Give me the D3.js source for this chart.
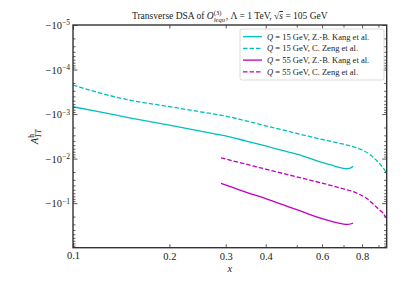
<!DOCTYPE html>
<html>
<head>
<meta charset="utf-8">
<script src="https://cdn.jsdelivr.net/npm/d3@7"></script>
<style>
  body { margin: 0; background: #fff; }
  text { font-family: "Liberation Serif", "Times New Roman", serif; fill: #222; }
</style>
</head>
<body>
<svg></svg>
<script>
// curves, y given as |A| (values are negative)
const xQ15Kang = [0.1, 0.12, 0.15, 0.2, 0.25, 0.3, 0.35, 0.4, 0.45, 0.5, 0.55, 0.6, 0.65, 0.68, 0.7, 0.72, 0.74, 0.75];
const yQ15Kang = [6.85e-4, 8.8e-4, 1.21e-3, 1.77e-3, 2.42e-3, 3.09e-3, 4.08e-3, 5.2e-3, 6.54e-3, 7.95e-3, 9.9e-3, 1.22e-2, 1.44e-2, 1.58e-2, 1.65e-2, 1.67e-2, 1.59e-2, 1.48e-2];

const xQ15Zeng = [0.1, 0.12, 0.15, 0.2, 0.25, 0.3, 0.35, 0.4, 0.45, 0.5, 0.55, 0.6, 0.65, 0.7, 0.75, 0.8, 0.85, 0.89, 0.92, 0.95];
const yQ15Zeng = [2.23e-4, 3.29e-4, 4.84e-4, 6.8e-4, 8.9e-4, 1.11e-3, 1.44e-3, 1.83e-3, 2.25e-3, 2.72e-3, 3.2e-3, 3.7e-3, 4.2e-3, 4.75e-3, 5.4e-3, 6.4e-3, 8.3e-3, 1.12e-2, 1.45e-2, 2.0e-2];

const xQ55Kang = [0.29, 0.32, 0.35, 0.4, 0.45, 0.5, 0.55, 0.6, 0.65, 0.68, 0.7, 0.72, 0.74, 0.75];
const yQ55Kang = [3.6e-2, 4.62e-2, 5.78e-2, 7.9e-2, 0.107, 0.14, 0.18, 0.222, 0.262, 0.283, 0.295, 0.30, 0.29, 0.279];

const xQ55Zeng = [0.29, 0.32, 0.35, 0.4, 0.45, 0.5, 0.55, 0.6, 0.65, 0.7, 0.75, 0.79, 0.83, 0.866, 0.9, 0.93, 0.95];
const yQ55Zeng = [9.6e-3, 1.15e-2, 1.35e-2, 1.72e-2, 2.13e-2, 2.56e-2, 3.04e-2, 3.55e-2, 4.15e-2, 4.8e-2, 5.5e-2, 6.5e-2, 8.0e-2, 0.104, 0.135, 0.168, 0.21];

const seriesNames = [
  "= 15 GeV, Z.-B. Kang et al.",
  "= 15 GeV, C. Zeng et al.",
  "= 55 GeV, Z.-B. Kang et al.",
  "= 55 GeV, C. Zeng et al."
];
const xTickLabels = [0.1, 0.2, 0.3, 0.4, 0.6, 0.8];
const xMinorTicks = [0.5, 0.7, 0.9];
const yTickExps = [-5, -4, -3, -2, -1];

const width = 407;
const height = 285;
const margin = { top: 25, right: 20.3, bottom: 37.3, left: 73 };

const svg = d3.select("svg").attr("width", width).attr("height", height);

const xScale = d3.scaleLog()
  .domain([0.1, 0.955])
  .range([margin.left, width - margin.right]);

const yScale = d3.scaleLog()
  .domain([1e-5, 1])
  .range([margin.top, height - margin.bottom]);

const series = [
  { x: xQ15Kang, y: yQ15Kang, color: "#00bfbf", dash: null },
  { x: xQ15Zeng, y: yQ15Zeng, color: "#00bfbf", dash: "4.5,2" },
  { x: xQ55Kang, y: yQ55Kang, color: "#bf00bf", dash: null },
  { x: xQ55Zeng, y: yQ55Zeng, color: "#bf00bf", dash: "4.5,2" }
];

svg.append("clipPath").attr("id", "clip")
  .append("rect")
  .attr("x", margin.left).attr("y", margin.top)
  .attr("width", width - margin.left - margin.right)
  .attr("height", height - margin.top - margin.bottom);

const line = d3.line()
  .x((d) => xScale(d[0]))
  .y((d) => yScale(d[1]))
  .curve(d3.curveMonotoneX);

svg.append("g")
  .attr("clip-path", "url(#clip)")
  .selectAll("path")
  .data(series)
  .enter()
  .append("path")
  .attr("d", (s) => line(s.x.map((v, i) => [v, s.y[i]])))
  .attr("fill", "none")
  .attr("stroke", (s) => s.color)
  .attr("stroke-width", 1.3)
  .attr("stroke-dasharray", (s) => s.dash);

// minor y ticks
const yMinor = [];
for (let e = -5; e < 0; e++) {
  for (let k = 2; k <= 9; k++) yMinor.push(k * Math.pow(10, e));
}
const yMajor = yTickExps.map((e) => Math.pow(10, e));

const bottomY = height - margin.bottom;
const rightX = width - margin.right;

const addAxis = (axis, transform) => {
  const g = svg.append("g").attr("transform", transform).call(axis);
  g.select(".domain").remove();
  g.selectAll(".tick line").attr("stroke", "#333").attr("stroke-width", 0.8);
  g.selectAll("text").style("font-family", "Liberation Serif, serif").style("font-size", "10.5px").attr("fill", "#222");
  return g;
};

// x axes
addAxis(d3.axisBottom(xScale).tickValues([0.1]).tickSize(-4.5).tickPadding(4).tickFormat(d3.format(".1f")), `translate(0,${bottomY})`);
addAxis(d3.axisBottom(xScale).tickValues(xTickLabels.slice(1)).tickSize(-3.5).tickPadding(5).tickFormat(d3.format(".1f")), `translate(0,${bottomY})`);
addAxis(d3.axisBottom(xScale).tickValues(xMinorTicks).tickSize(-2.5).tickFormat(""), `translate(0,${bottomY})`);
addAxis(d3.axisTop(xScale).tickValues([0.1]).tickSize(-4.5).tickFormat(""), `translate(0,${margin.top})`);
addAxis(d3.axisTop(xScale).tickValues(xTickLabels.slice(1)).tickSize(-3.5).tickFormat(""), `translate(0,${margin.top})`);
addAxis(d3.axisTop(xScale).tickValues(xMinorTicks).tickSize(-2.5).tickFormat(""), `translate(0,${margin.top})`);

// y axes
const yAxisG = addAxis(d3.axisLeft(yScale).tickValues(yMajor).tickSize(-4.5).tickPadding(3).tickFormat(""), `translate(${margin.left},0)`);
addAxis(d3.axisLeft(yScale).tickValues(yMinor).tickSize(-2.5).tickFormat(""), `translate(${margin.left},0)`);
addAxis(d3.axisRight(yScale).tickValues(yMajor).tickSize(-4.5).tickFormat(""), `translate(${rightX},0)`);
addAxis(d3.axisRight(yScale).tickValues(yMinor).tickSize(-2.5).tickFormat(""), `translate(${rightX},0)`);

yAxisG.selectAll(".tick").each(function (d) {
  const t = d3.select(this).select("text");
  t.attr("x", -3).attr("dy", "0.35em").attr("text-anchor", "end");
  t.append("tspan").text("\u221210");
  t.append("tspan")
    .attr("dy", "-0.5em")
    .style("font-size", "7.5px")
    .text("\u2212" + Math.abs(Math.round(Math.log10(d))));
});

// frame
svg.append("rect")
  .attr("x", margin.left).attr("y", margin.top)
  .attr("width", rightX - margin.left)
  .attr("height", bottomY - margin.top)
  .attr("fill", "none")
  .attr("stroke", "#333")
  .attr("stroke-width", 1.4);

// stacked super/subscript helper
const supSub = (t, sup, sub, size, subItalic) => {
  const s1 = t.append("tspan").attr("dy", -0.42 * 10).style("font-size", size + "px").text(sup);
  const w = s1.node().getComputedTextLength();
  t.append("tspan").attr("dx", -w).attr("dy", 0.42 * 10 + 3)
    .style("font-size", size + "px")
    .style("font-style", subItalic ? "italic" : "normal")
    .text(sub);
  t.append("tspan").attr("dy", -3).text("\u200A");
};

// title
const title = svg.append("text")
  .attr("x", (margin.left + rightX) / 2)
  .attr("y", 19)
  .attr("text-anchor", "middle")
  .style("font-size", "9.5px");
title.append("tspan").text("Transverse DSA of ");
title.append("tspan").style("font-style", "italic").text("O");
supSub(title, "(3)", "lequ", 6.5, true);
title.append("tspan").text(", \u039B = 1 TeV, \u221A");
title.append("tspan").style("font-style", "italic").style("text-decoration", "overline").text("s");
title.append("tspan").text(" = 105 GeV");

// axis labels
svg.append("text")
  .attr("x", (margin.left + rightX) / 2)
  .attr("y", 272)
  .attr("text-anchor", "middle")
  .style("font-size", "10.5px")
  .style("font-style", "italic")
  .text("x");

const yLab = svg.append("text")
  .attr("transform", `translate(38,${(margin.top + bottomY) / 2}) rotate(-90)`)
  .attr("text-anchor", "middle")
  .style("font-size", "10.5px");
yLab.append("tspan").style("font-style", "italic").text("A");
supSub(yLab, "h", "TT", 7.5, true);

// legend
const legend = svg.append("g");
legend.append("rect")
  .attr("x", 240).attr("y", 29)
  .attr("width", 144).attr("height", 51)
  .attr("rx", 2)
  .attr("fill", "#fff")
  .attr("fill-opacity", 0.85)
  .attr("stroke", "#d0d0d0")
  .attr("stroke-width", 0.8);

const rows = legend.selectAll("g.row")
  .data(series)
  .enter()
  .append("g")
  .attr("class", "row")
  .attr("transform", (d, i) => `translate(0,${36.7 + i * 11.7})`);

rows.append("line")
  .attr("x1", 243).attr("x2", 262)
  .attr("stroke", (d) => d.color)
  .attr("stroke-width", 1.3)
  .attr("stroke-dasharray", (d) => d.dash);

rows.append("text")
  .attr("x", 267)
  .attr("dy", "0.33em")
  .style("font-size", "8.5px")
  .each(function (d, i) {
    const t = d3.select(this);
    t.append("tspan").style("font-style", "italic").text("Q");
    t.append("tspan").text(" " + seriesNames[i]);
  });
</script>
</body>
</html>
